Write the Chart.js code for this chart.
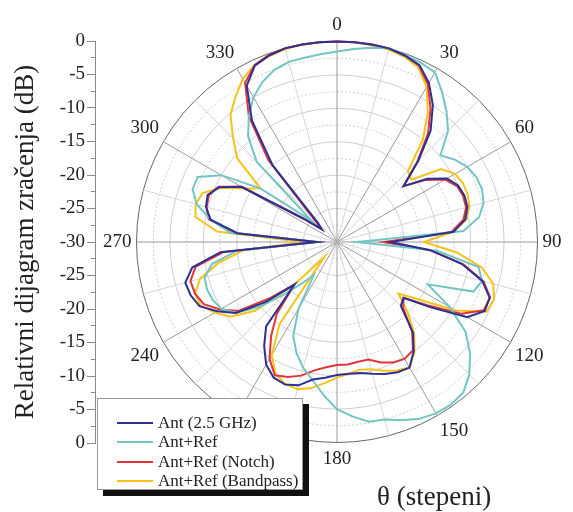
<!DOCTYPE html>
<html>
<head>
<meta charset="utf-8">
<script src="https://cdn.jsdelivr.net/npm/chart.js@4.4.0/dist/chart.umd.min.js"></script>
<style>
  body { margin: 0; background: #fff; }
  #wrap { position: relative; width: 573px; height: 512px; overflow: hidden; font-family: 'Liberation Serif', serif; color: #222; }
  canvas { position: absolute; top: 0; left: 0; }
  #legend { position: absolute; left: 97px; top: 398px; width: 206px; height: 92px; background: #fff;
            border: 1px solid #999; box-shadow: 6px 6px 0 #111; font-size: 17px; box-sizing: border-box; padding-top: 14px; }
  .row { display: flex; align-items: center; height: 19.5px; white-space: nowrap; }
  .swatch { width: 36px; height: 0; border-top: 2px solid; margin: 0 5px 0 19px; }
  #thetaTitle { position: absolute; left: 377px; top: 481px; font-size: 27px; white-space: nowrap; }
</style>
</head>
<body>
<div id="wrap">
  <canvas id="axisChart" width="110" height="512"></canvas>
  <canvas id="polarChart" width="573" height="512"></canvas>
  <div id="legend"></div>
  <div id="thetaTitle">θ (stepeni)</div>
</div>
<script>
// angle in degrees, every 5 deg
const angles = [0, 5, 10, 15, 20, 25, 30, 35, 40, 45, 50, 55, 60, 65, 70, 75, 80, 85,
  90, 95, 100, 105, 110, 115, 120, 125, 130, 135, 140, 145, 150, 155, 160, 165, 170, 175,
  180, 185, 190, 195, 200, 205, 210, 215, 220, 225, 230, 235, 240, 245, 250, 255, 260, 265,
  270, 275, 280, 285, 290, 295, 300, 305, 310, 315, 320, 325, 330, 335, 340, 345, 350, 355];

// relative pattern in dB
const antDb = [0, 0, 0, 0, -0.3, -0.8, -2.5, -5, -8.2, -12.8, -17, -13.5, -11, -10, -9.7, -9.8, -10.5, -12.5,
  -22, -16, -11, -7.5, -5.7, -5.6, -7.5, -13, -17, -16.5, -12.3, -10, -8.3, -8.5, -9, -9.6, -10.1, -10.2,
  -10.1, -9.6, -9.1, -7.8, -7.3, -7.6, -8.8, -11, -13.5, -21, -16, -11.5, -9.3, -7.3, -6.7, -6.5, -8, -12.5,
  -27, -15, -10.8, -9.7, -9.4, -10.6, -13.5, -24, -27, -26, -15, -7.8, -3, -0.9, -0.3, 0, 0, 0];

const refDb = [-1.5, -1, -0.5, 0, -0.2, -0.4, -0.7, -2.6, -4.5, -6.5, -9.8, -8.5, -7.5, -7, -6.9, -7.3, -8.4, -11,
  -27, -15, -8.5, -7.5, -8.3, -15, -10.5, -6.5, -4, -2, -0.6, -0.3, -0.4, -0.8, -1.6, -2.5, -2.7, -3.8,
  -5, -7, -9, -10.5, -12.3, -14.5, -18.5, -24, -22, -19, -15, -11.5, -10, -9.5, -9.3, -9.5, -11, -15,
  -27, -14, -10.8, -8.3, -7, -7, -10, -16, -25, -13, -9.3, -7, -5, -3.6, -2.6, -2.1, -2, -1.8];

const notchDb = [0, 0, 0, 0, -0.3, -0.9, -2.8, -5.6, -8.8, -13, -17, -13.8, -11.3, -10.2, -9.9, -10, -10.8, -12.8,
  -23, -16, -10.8, -7.3, -5.6, -5.8, -8.5, -13.5, -17, -16, -12.5, -10.2, -9.8, -10.1, -10.8, -11.8, -11.8, -11.6,
  -11.6, -11.2, -10.5, -9.3, -8.5, -8, -9.8, -12.8, -16, -21, -17, -12, -9.8, -8, -7.4, -7.3, -8.5, -13,
  -27, -15, -10.5, -9.8, -9.6, -10.4, -13.5, -24, -27, -25, -14, -7, -2.5, -0.8, -0.2, 0, 0, 0];

const bandDb = [0, 0, -0.1, -0.2, -0.5, -1.2, -3.2, -6.3, -10, -15, -15.5, -11, -9.6, -9.2, -9.2, -9.5, -10.3, -12.5,
  -17, -12, -8, -5.8, -5, -5.3, -9.5, -15, -18, -15, -12, -9.8, -8.3, -8.8, -9.5, -10.3, -10.6, -10.2,
  -9.7, -8.8, -7.8, -7.2, -7.4, -8.2, -10.5, -15, -27, -21, -14, -10.5, -8.9, -7.5, -7.4, -8.8, -12, -16,
  -25, -12, -8.5, -8.1, -8.6, -10.8, -14, -16, -10.5, -8, -5.2, -3.5, -1.8, -0.8, -0.4, -0.1, 0, 0];

const seriesNames = ['Ant (2.5 GHz)', 'Ant+Ref', 'Ant+Ref (Notch)', 'Ant+Ref (Bandpass)'];
const seriesColors = ['#2e3192', '#72c6c2', '#e2353b', '#f6c21c'];
const seriesData = [antDb, refDb, notchDb, bandDb];

const radialTicks = ['0', '-5', '-10', '-15', '-20', '-25', '-30'];

const serif = 'Liberation Serif';

// left linear axis: 0 at top, -30 at centre, 0 at bottom
new Chart(document.getElementById('axisChart'), {
  type: 'scatter',
  data: { datasets: [] },
  options: {
    responsive: false,
    animation: false,
    layout: { padding: { top: 41, bottom: 69, left: 0, right: 5 } },
    plugins: { legend: { display: false }, tooltip: { enabled: false } },
    scales: {
      x: { display: false },
      y: {
        min: 0,
        max: 60,
        afterFit: (scale) => { scale.width = 95; },
        border: { color: '#8a8a8a', width: 1 },
        grid: {
          drawOnChartArea: false,
          tickLength: 8,
          tickColor: '#8a8a8a',
          tickBorderDash: (ctx) => ctx.tick && ctx.tick.value % 5 !== 0 ? [0, 4, 4, 20] : []
        },
        ticks: {
          stepSize: 2.5,
          autoSkip: false,
          padding: 2,
          color: '#222',
          font: { family: serif, size: 19 },
          callback: (v) => v % 5 === 0 ? radialTicks[Math.round(6 - Math.abs(v - 30) / 5)] : ''
        },
        title: {
          display: true,
          text: 'Relativni dijagram zračenja (dB)',
          color: '#222',
          font: { family: serif, size: 27 },
          padding: { top: 10 }
        }
      }
    }
  }
});

new Chart(document.getElementById('polarChart'), {
  type: 'radar',
  data: {
    labels: angles,
    datasets: seriesData.map((d, i) => ({
      label: seriesNames[i],
      data: d,
      borderColor: seriesColors[i],
      backgroundColor: seriesColors[i]
    }))
  },
  options: {
    responsive: false,
    animation: false,
    layout: { padding: { left: 98, right: 6, top: 8, bottom: 35 } },
    plugins: { legend: { display: false }, tooltip: { enabled: false } },
    elements: {
      line: { borderWidth: 2, tension: 0, fill: false },
      point: { radius: 0, hoverRadius: 0 }
    },
    scales: {
      r: {
        min: -30,
        max: 0,
        ticks: { display: false, stepSize: 2.5 },
        grid: {
          color: (ctx) => ctx.index === 0 ? 'rgba(0,0,0,0)' : (ctx.tick.value === 0 ? '#666' : '#cfcfcf'),
          lineWidth: 1
        },
        border: {
          dash: (ctx) => (ctx.tick && ctx.tick.value % 5 !== 0) ? [2, 2] : []
        },
        angleLines: {
          color: (ctx) => ctx.index % 6 === 0 ? '#9a9a9a' : (ctx.index % 3 === 0 ? '#d6d6d6' : 'rgba(0,0,0,0)'),
          lineWidth: (ctx) => ctx.index % 3 === 0 ? 1 : 0
        },
        pointLabels: {
          callback: (label, index) => index % 6 === 0 ? String(label) : '',
          font: { family: serif, size: 19 },
          color: '#222',
          padding: 5
        }
      }
    }
  }
});

// legend box
let legendHtml = '';
for (let i = 0; i < seriesNames.length; i++) {
  legendHtml += `<div class="row"><span class="swatch" style="border-color:${seriesColors[i]}"></span>${seriesNames[i]}</div>`;
}
document.getElementById('legend').innerHTML = legendHtml;
</script>
</body>
</html>
